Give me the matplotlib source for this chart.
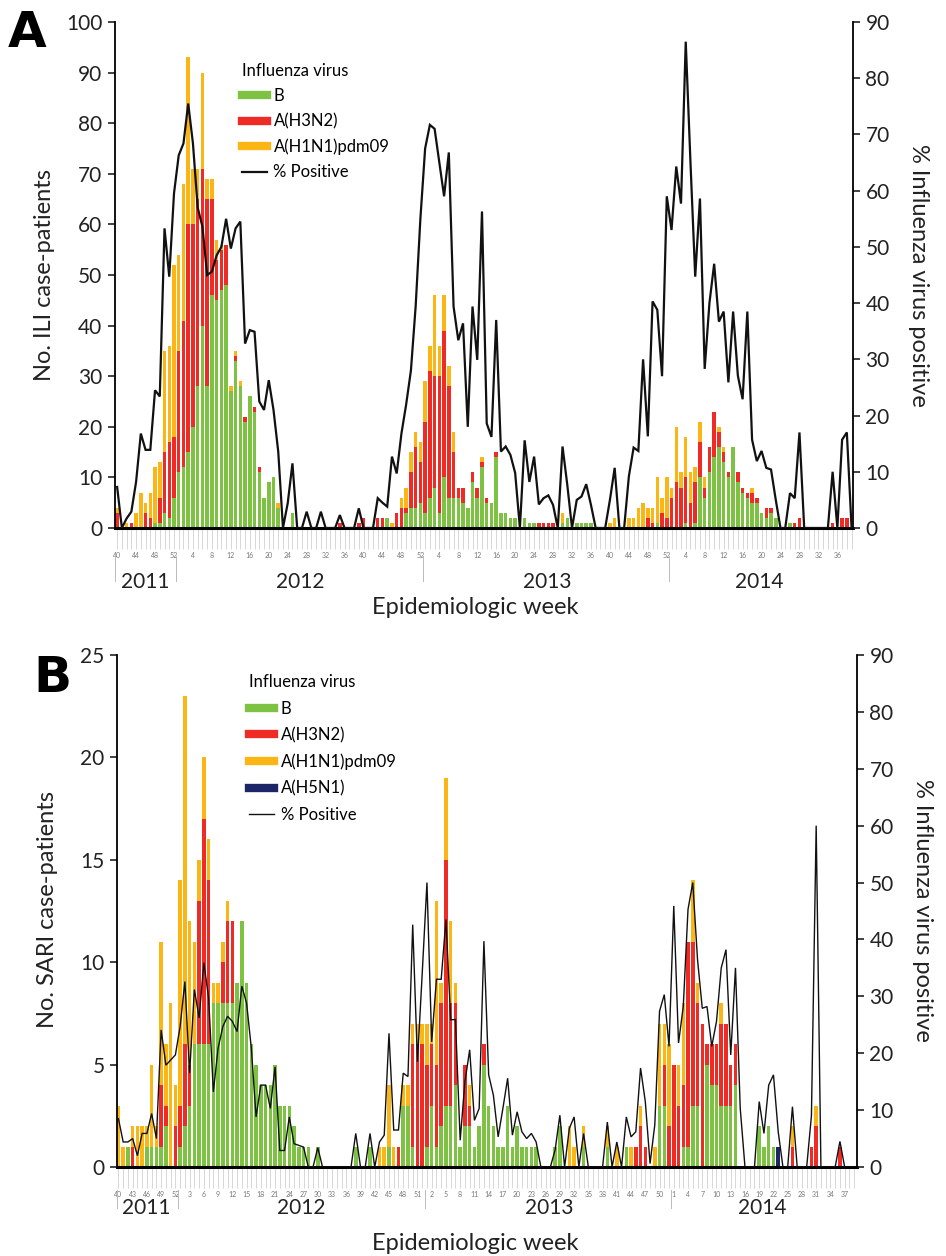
import matplotlib
matplotlib.use('Agg')
import matplotlib.pyplot as plt
import matplotlib.transforms as mtransforms
from matplotlib.lines import Line2D
import numpy as np

plt.rcParams['font.family'] = ['Lato', 'DejaVu Sans']

# ---------------- DATA ----------------
# weekly index 0 = 2011 week 40 ... 155 = 2014 week 39
n_weeks = 156

# Panel A: ILI case-patients
ili_b = [0,0,0,0,0,0,0,0,1,1,
         3,2,6,11,12,15,20,28,40,28,
         46,45,47,48,27,33,28,21,26,23,
         11,6,9,10,4,0,0,3,0,0,
         0,0,0,0,0,0,0,0,0,0,
         0,0,0,0,0,0,0,2,0,0,
         0,3,4,4,5,3,6,8,3,10,
         6,6,6,5,4,9,6,12,5,5,
         14,3,3,2,2,0,2,1,1,0,
         0,0,0,0,1,2,0,1,1,1,
         1,0,0,0,0,0,0,0,0,0,
         0,0,0,0,1,0,0,0,0,0,
         1,0,1,10,6,11,14,16,13,10,
         16,9,7,6,5,5,3,2,3,2,
         0,0,1,0,0,0,0,0,0,0,
         0,0,0,0,0,0]
ili_h3n2 = [3,0,0,1,0,0,3,2,0,5,
            12,15,12,24,29,45,40,37,31,37,
            19,8,8,8,0,1,0,1,0,1,
            1,0,0,0,0,0,0,0,0,0,
            0,0,0,0,0,0,0,1,0,0,
            0,1,2,0,0,2,2,0,0,3,
            4,1,7,12,8,18,25,22,27,29,
            22,9,2,3,0,2,2,1,1,0,
            1,0,0,0,0,0,0,0,0,1,
            1,1,1,0,0,0,0,0,0,0,
            0,0,0,0,0,0,0,0,0,0,
            0,0,2,1,0,3,2,6,9,8,
            9,5,8,7,2,5,9,3,2,1,
            0,2,1,1,2,1,0,2,1,0,
            0,0,0,1,2,0,0,0,0,0,
            0,1,0,2,2,0]
ili_h1n1 = [1,0,1,0,3,7,2,5,11,7,
            20,19,34,19,27,33,11,6,19,4,
            4,4,1,0,1,1,1,0,0,0,
            0,0,0,0,1,0,0,0,0,0,
            0,0,0,0,0,0,0,0,0,0,
            0,0,0,0,0,0,0,0,1,0,
            2,4,4,3,4,8,5,16,6,7,
            4,4,0,0,0,0,0,1,0,0,
            0,0,0,0,0,0,0,0,0,0,
            0,0,0,0,2,0,0,0,0,0,
            0,0,0,0,1,2,0,0,2,2,
            4,5,2,3,9,3,8,2,11,3,
            8,6,3,4,2,0,0,1,1,0,
            0,0,0,0,1,0,0,0,0,0,
            0,0,0,0,0,0,0,0,0,0,
            0,0,0,0,0,0]
ili_pos = [7.3,0,1.7,2.9,8.2,16.8,13.9,13.9,24.5,23.4,
           53.3,44.7,59.5,66.3,68.4,75.5,68.4,57,53.6,45,
           45.6,48.5,50,55,49.7,53.3,54.5,32.8,35.2,34.9,
           22.5,21,26.3,21,13.6,0,4.4,11.5,0,0,
           2.9,0,0,2.9,0,0,0,2.3,0,0,
           0,3.5,0,0,0,5.3,4.5,3.8,12.7,9.7,
           16.8,22,28,39.4,55,67.5,71.7,71,65,59,
           66.8,39.4,33.4,36.4,18,39.4,29.9,56.3,18.6,16.2,
           37,13.6,14.5,13,9.8,0,15.6,8.2,12.7,4.2,
           5.3,5.8,4.1,0,14.5,7.7,0,5,5.6,7.8,
           4.1,0,0,0,5,10.7,0,0,9.2,14.3,
           13.7,30,16.3,40.3,38.8,27,59,53,64.3,57.7,
           86.5,65,44.7,58.6,28.3,40,47,36.7,38.5,25.9,
           38.5,27.1,22.9,38.5,15.7,11.9,13.7,10.7,10.4,5,
           0,0,6.2,5.3,17,0,0,0,0,0,
           0,10,0,15.7,17,0]

# Panel B: SARI case-patients
sari_b = [0,0,1,0,0,0,1,1,1,1,
          2,0,0,1,2,3,6,6,6,6,
          8,8,8,8,8,9,12,9,6,5,
          4,4,4,5,3,3,3,2,1,1,
          1,0,1,0,0,0,0,0,0,0,
          1,0,0,1,0,0,0,1,0,0,
          3,3,1,0,0,1,3,1,2,3,
          3,4,1,2,2,1,2,5,3,2,
          1,1,3,1,2,1,1,1,1,0,
          0,0,1,2,0,0,0,0,1,0,
          0,0,0,1,0,0,0,1,0,0,
          0,0,0,0,3,3,0,0,0,1,
          1,3,3,0,5,4,4,3,3,3,
          4,0,0,0,0,2,1,2,1,0,
          0,0,0,0,0,0,0,0,0,0,
          0,0,0,0,0,0]
sari_h3n2 = [0,0,0,1,0,0,0,0,0,3,
             1,0,2,2,4,2,0,7,11,8,
             0,0,2,4,4,0,0,0,0,0,
             0,0,0,0,0,0,0,0,0,0,
             0,0,0,0,0,0,0,0,0,0,
             0,0,0,0,0,0,0,0,0,1,
             0,0,5,6,6,4,3,4,6,12,
             5,4,0,3,1,0,0,1,0,0,
             0,0,0,0,0,0,0,0,0,0,
             0,0,0,0,0,0,0,0,0,0,
             0,0,0,0,0,0,0,0,0,1,
             2,1,0,0,0,2,2,5,3,3,
             10,8,5,7,1,2,2,4,4,2,
             2,0,0,0,0,0,0,0,0,0,
             0,0,1,0,0,0,1,2,0,0,
             0,0,1,0,0,0]
sari_h1n1 = [3,1,0,1,2,2,1,4,1,7,
             3,8,2,11,17,7,5,2,3,2,
             1,1,1,1,0,0,0,0,0,0,
             0,0,0,0,0,0,0,0,0,0,
             0,0,0,0,0,0,0,0,0,0,
             0,0,0,0,0,1,1,3,1,0,
             1,1,1,1,1,2,1,8,1,4,
             4,1,0,0,1,0,0,0,0,0,
             0,0,0,0,0,0,0,0,0,0,
             0,0,0,0,0,2,1,0,1,0,
             0,0,0,1,0,1,0,0,1,0,
             1,0,0,1,4,2,4,0,2,4,
             0,3,1,0,0,0,0,1,0,0,
             0,0,0,0,0,0,0,0,0,0,
             0,0,1,0,0,0,0,1,0,0,
             0,0,0,0,0,0]
sari_h5n1 = [0]*139 + [1] + [0]*16
sari_pos = [8.5,4.4,4.4,5,2,5.9,5.9,9.4,5,24.1,
            17.9,18.8,19.7,24.7,32.6,16.5,31.2,26.2,35.9,29.7,
            13.2,20.9,24.7,26.5,25.6,23.8,31.8,28.8,20.9,8.8,
            14.4,14.4,10.3,17.6,2.9,2.9,8.8,4.1,3.8,3.5,
            0,0,3.4,0,0,0,0,0,0,0,
            5.9,0,0,5.9,0,4.4,5.6,23.5,6.5,6.5,
            16.5,15.9,42.6,18.5,34,50,22,33,33,43.5,
            25.9,25.9,4.7,15,20.6,8.2,10.3,39.7,16.2,12.6,
            5.3,10.3,15.6,5.6,9.7,6.2,5,5.9,4.4,0,
            0,0,3,9.1,0,6.8,8.8,0,5.9,0,
            0,0,0,7.9,0,4.4,0,8.8,5.3,6.2,
            17.4,11.5,0.6,7.4,27.4,30.3,21.2,45.9,21.8,28.2,
            45.3,50,36.5,27.9,28.2,21.2,25.6,35,38.2,19.7,
            35,10.3,0,0,0,11.5,5.9,14.4,16.2,6.2,
            0,0,10.6,0,0,0,9,60,0,0,
            0,0,4.5,0,0,0]

a_tick_pos = list(range(0, 156, 4))
a_tick_labels = ['40','44','48','52',
                 '4','8','12','16','20','24','28','32','36','40','44','48','52',
                 '4','8','12','16','20','24','28','32','36','40','44','48','52',
                 '4','8','12','16','20','24','28','32','36']
b_tick_pos = list(range(0, 156, 3))
b_tick_labels = ['40','43','46','49','52',
                 '3','6','9','12','15','18','21','24','27','30','33','36','39','42','45','48','51',
                 '2','5','8','11','14','17','20','23','26','29','32','35','38','41','44','47','50',
                 '1','4','7','10','13','16','19','22','25','28','31','34','37']
years = ['2011', '2012', '2013', '2014']
year_label_pos = [5.9, 38.6, 90.7, 135.6]
year_breaks = [-0.4, 12.5, 64.5, 116.5]

# ---------------- STYLE ----------------
C_B = '#7dc242'
C_H3 = '#ee2b24'
C_H1 = '#fbb616'
C_H5 = '#1c2566'

W, H = 946, 1256
fig = plt.figure(figsize=(W/100, H/100), dpi=100)

def px_axes(l, r, t, b):
    return fig.add_axes([l/W, 1 - b/H, (r-l)/W, (b-t)/H])

def draw_panel(ax, series, colors, pos, ymax, ystep, tick_pos, tick_labels, xlim, lw):
    x = np.arange(n_weeks)
    bottom = np.zeros(n_weeks)
    for s, c in zip(series, colors):
        s = np.array(s, dtype=float)
        ax.bar(x, s, bottom=bottom, width=0.74, color=c, linewidth=0, zorder=2)
        bottom += s
    ax.set_xlim(*xlim)
    ax.set_ylim(0, ymax)
    ax.set_yticks(np.arange(0, ymax + 0.01, ystep))
    ax.tick_params(axis='y', labelsize=15, length=5, width=1.2, pad=4, colors='#222222')
    ax.set_xticks(tick_pos)
    ax.set_xticklabels(tick_labels, fontsize=5, color='#777777')
    ax.set_xticks(x, minor=True)
    ax.tick_params(axis='x', which='both', length=15, width=0.5, color='#c8c8c8', pad=2)
    for sp in ['top', 'right']:
        ax.spines[sp].set_visible(False)
    ax.spines['bottom'].set_linewidth(2.2)
    ax.spines['left'].set_linewidth(1.3)
    ax2 = ax.twinx()
    ax2.plot(x, pos, color='#111111', lw=lw, zorder=5, solid_joinstyle='miter')
    ax2.set_ylim(0, 90)
    ax2.set_yticks(np.arange(0, 91, 10))
    ax2.tick_params(axis='y', labelsize=15, length=5, width=1.2, pad=4, colors='#222222')
    for sp in ['top', 'left', 'bottom']:
        ax2.spines[sp].set_visible(False)
    ax2.spines['right'].set_linewidth(1.3)
    ax2.set_xlim(*xlim)
    return ax2

def year_marks(ax, y_text, y0, y1):
    tr = mtransforms.blended_transform_factory(ax.transData, ax.transAxes)
    for xb in year_breaks:
        ax.plot([xb, xb], [y0, y1], transform=tr, color='#bbbbbb', lw=0.7, clip_on=False)
    for lab, xp in zip(years, year_label_pos):
        ax.text(xp, y_text, lab, transform=tr, fontsize=15, ha='center', va='center', color='#222222')

# ---------------- PANEL A ----------------
axA = px_axes(115, 853, 22, 528)
axA2 = draw_panel(axA, [ili_b, ili_h3n2, ili_h1n1], [C_B, C_H3, C_H1], ili_pos,
                  100, 10, a_tick_pos, a_tick_labels, (-0.45, 155.3), 1.6)
year_marks(axA, -0.107, -0.055, -0.105)
fig.text(45/W, 1 - 275/H, 'No. ILI case-patients', rotation=90, fontsize=17, ha='center', va='center', color='#222222')
fig.text(918/W, 1 - 275/H, '% Influenza virus positive', rotation=270, fontsize=17, ha='center', va='center', color='#222222')
fig.text(475/W, 1 - 607/H, 'Epidemiologic week', fontsize=17, ha='center', va='center', color='#222222')
fig.text(8/W, 1 - 33/H, 'A', fontsize=36, fontweight='bold', family='DejaVu Sans', ha='left', va='center')

hA = [Line2D([0], [0], color=C_B, lw=6),
      Line2D([0], [0], color=C_H3, lw=6),
      Line2D([0], [0], color=C_H1, lw=6),
      Line2D([0], [0], color='#111111', lw=1.6)]
legA = axA2.legend(hA, ['B', 'A(H3N2)', 'A(H1N1)pdm09', '% Positive'], title='Influenza virus',
                   loc='upper left', bbox_to_anchor=(0.156, 0.942), frameon=False, fontsize=12,
                   title_fontsize=12, handlelength=1.5, handletextpad=0.4, labelspacing=0.55,
                   alignment='left', borderpad=0.2)

# ---------------- PANEL B ----------------
axB = px_axes(117, 857, 655, 1167)
axB2 = draw_panel(axB, [sari_b, sari_h3n2, sari_h1n1, sari_h5n1], [C_B, C_H3, C_H1, C_H5], sari_pos,
                  25, 5, b_tick_pos, b_tick_labels, (-0.3, 155.6), 1.0)
year_marks(axB, -0.08, -0.045, -0.08)
fig.text(47/W, 1 - 910/H, 'No. SARI case-patients', rotation=90, fontsize=17, ha='center', va='center', color='#222222')
fig.text(922/W, 1 - 910/H, '% Influenza virus positive', rotation=270, fontsize=17, ha='center', va='center', color='#222222')
fig.text(475/W, 1 - 1243/H, 'Epidemiologic week', fontsize=17, ha='center', va='center', color='#222222')
fig.text(33/W, 1 - 678/H, 'B', fontsize=36, fontweight='bold', family='DejaVu Sans', ha='left', va='center')

hB = [Line2D([0], [0], color=C_B, lw=6),
      Line2D([0], [0], color=C_H3, lw=6),
      Line2D([0], [0], color=C_H1, lw=6),
      Line2D([0], [0], color=C_H5, lw=6),
      Line2D([0], [0], color='#111111', lw=1.0)]
legB = axB2.legend(hB, ['B', 'A(H3N2)', 'A(H1N1)pdm09', 'A(H5N1)', '% Positive'], title='Influenza virus',
                   loc='upper left', bbox_to_anchor=(0.163, 0.985), frameon=False, fontsize=12,
                   title_fontsize=12, handlelength=1.5, handletextpad=0.4, labelspacing=0.62,
                   alignment='left', borderpad=0.2)

fig.savefig('out.png', dpi=100)
